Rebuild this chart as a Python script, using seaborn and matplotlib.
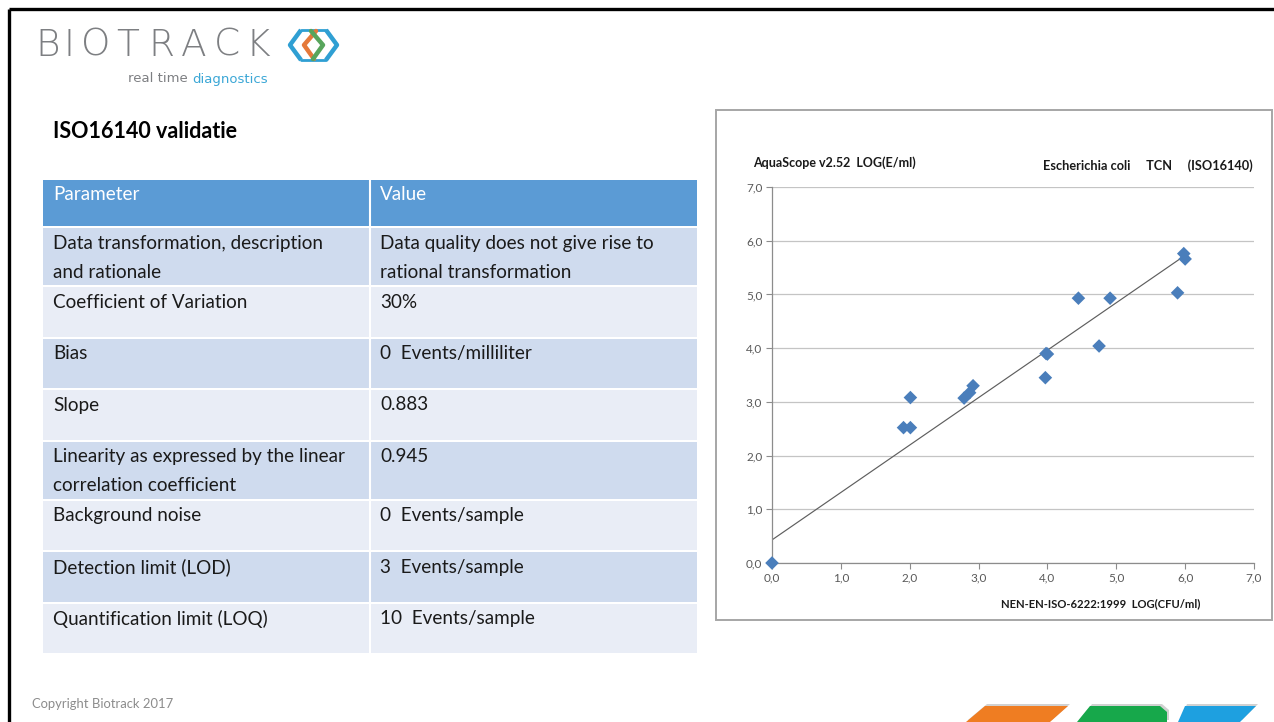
import matplotlib
matplotlib.use("Agg")
import matplotlib.pyplot as plt
import matplotlib.patches as mpatches
import seaborn as sns
import pandas as pd

# ---------------- data ----------------
x_reference = [0.0, 1.91, 2.01, 2.01, 2.79, 2.87, 2.92, 3.97, 3.98, 4.00,
               4.45, 4.75, 4.91, 5.89, 5.98, 6.00]
y_aquascope = [0.0, 2.52, 2.52, 3.08, 3.07, 3.17, 3.30, 3.45, 3.90, 3.89,
               4.93, 4.04, 4.93, 5.03, 5.76, 5.66]
trend_slope = 0.883
trend_intercept = 0.43
axis_ticks = [0, 1, 2, 3, 4, 5, 6, 7]

parameters = ["Data transformation, description\nand rationale",
              "Coefficient of Variation",
              "Bias",
              "Slope",
              "Linearity as expressed by the linear\ncorrelation coefficient",
              "Background noise",
              "Detection limit (LOD)",
              "Quantification limit (LOQ)"]
values = ["Data quality does not give rise to\nrational transformation",
          "30%",
          "0  Events/milliliter",
          "0.883",
          "0.945",
          "0  Events/sample",
          "3  Events/sample",
          "10  Events/sample"]
header = ["Parameter", "Value"]

# ---------------- figure ----------------
sns.set_style("white")
plt.rcParams['font.family'] = ['Lato', 'DejaVu Sans']

W, H = 1274, 722
fig = plt.figure(figsize=(W / 100, H / 100), dpi=100)
fig.patch.set_facecolor("white")

bg = fig.add_axes([0, 0, 1, 1])
bg.set_xlim(0, W)
bg.set_ylim(H, 0)
bg.axis("off")

# slide frame
bg.plot([9, W], [9, 9], color="black", lw=2.4, solid_capstyle="butt")
bg.plot([9, 9], [9, H], color="black", lw=2.4, solid_capstyle="butt")

# logo
logo_letters = "BIOTRACK"
logo_centers = [48, 69, 96, 128, 161, 194, 227, 258]
for ch, cx in zip(logo_letters, logo_centers):
    bg.text(cx, 45, ch, fontsize=27, color="#7d7f82", va="center", ha="center",
            family="DejaVu Sans", fontweight="light")
blue_l, orange, green = "#2f9fd3", "#e5793a", "#58a55c"
bg.plot([301, 290, 301], [30, 45, 60], color=blue_l, lw=3.2, solid_capstyle="butt")
bg.plot([326, 337, 326], [30, 45, 60], color=blue_l, lw=3.2, solid_capstyle="butt")
bg.plot([301, 326], [30, 30], color=blue_l, lw=2.0)
bg.plot([301, 326], [60, 60], color=blue_l, lw=2.0)
bg.plot([316, 304, 314], [31, 45, 59], color=orange, lw=3.2)
bg.plot([311, 323, 313], [31, 45, 59], color=green, lw=3.2)
bg.text(128, 79, "real time", fontsize=9.5, color="#7d7f82", va="center", ha="left",
        family="DejaVu Sans")
bg.text(268, 79, "diagnostics", fontsize=9.5, color="#3ba7d6", va="center", ha="right",
        family="DejaVu Sans")

# title
bg.text(53, 132, "ISO16140 validatie", fontsize=15.5, fontweight="bold",
        color="black", va="center", ha="left")

# table
fs_tab = 13.6
tx0, tx1, tcol = 43, 697, 370
gap = 2
y = 180
bg.add_patch(mpatches.Rectangle((tx0, y), tx1 - tx0, 46, facecolor="#5b9bd5",
                                edgecolor="none"))
bg.text(53, y + 15, header[0], fontsize=fs_tab, color="white", va="center")
bg.text(380, y + 15, header[1], fontsize=fs_tab, color="white", va="center")
y += 46 + gap
for i, (p, v) in enumerate(zip(parameters, values)):
    nlines = max(p.count("\n"), v.count("\n")) + 1
    h = 57 if nlines == 2 else 49.5
    col = "#cfdbee" if i % 2 == 0 else "#e9edf6"
    bg.add_patch(mpatches.Rectangle((tx0, y), tx1 - tx0, h, facecolor=col,
                                    edgecolor="none"))
    for k, line in enumerate(p.split("\n")):
        bg.text(53, y + 15 + 29 * k, line, fontsize=fs_tab, color="#1a1a1a", va="center")
    for k, line in enumerate(v.split("\n")):
        bg.text(380, y + 15 + 29 * k, line, fontsize=fs_tab, color="#1a1a1a", va="center")
    y += h + gap
bg.plot([tcol, tcol], [180, y - gap], color="white", lw=1.5)

# copyright
bg.text(32, 704, "Copyright Biotrack 2017", fontsize=9.4, color="#8c8c8c", va="center")

# bottom-right logo shapes
shapes = [([(966, 722), (985, 706), (1068, 706), (1050, 722)], "#ef7d22"),
          ([(1077, 722), (1090, 706), (1160, 706), (1167, 712), (1167, 722)], "#17a84b"),
          ([(1178, 722), (1185, 706), (1256, 706), (1240, 722)], "#1ea0e0")]
for pts, c in shapes:
    sh = [(px + 2, py - 2) for px, py in pts]
    bg.add_patch(mpatches.Polygon(sh, closed=True, facecolor="#999999", alpha=0.45,
                                  edgecolor="none"))
    bg.add_patch(mpatches.Polygon(pts, closed=True, facecolor=c, edgecolor="none"))

# chart frame
bg.add_patch(mpatches.Rectangle((716, 110), 556, 510, facecolor="white",
                                edgecolor="#a6a6a6", lw=1.4))

# chart texts
bg.text(753, 163, "AquaScope v2.52  LOG(E/ml)", fontsize=9, fontweight="bold",
        color="#1a1a1a", va="center", ha="left")
bg.text(1253, 166, "Escherichia coli     TCN     (ISO16140)", fontsize=9.2,
        fontweight="bold", color="#1a1a1a", va="center", ha="right")
bg.text(1200, 604, "NEN-EN-ISO-6222:1999  LOG(CFU/ml)", fontsize=8.1,
        fontweight="bold", color="#1a1a1a", va="center", ha="right")

# scatter axes
ax_l, ax_r, ax_t, ax_b = 772, 1254, 187, 563
ax = fig.add_axes([ax_l / W, (H - ax_b) / H, (ax_r - ax_l) / W, (ax_b - ax_t) / H])
ax.set_facecolor("none")

df = pd.DataFrame({"x": x_reference, "y": y_aquascope})
trend_x = [0.0, max(x_reference)]
trend = pd.DataFrame({"x": trend_x,
                      "y": [trend_intercept + trend_slope * t for t in trend_x]})
sns.lineplot(data=trend, x="x", y="y", ax=ax, color="#5e5e5e", lw=0.85, zorder=2)
sns.scatterplot(data=df, x="x", y="y", ax=ax, marker="D", s=48, color="#4a7ebb",
                edgecolor="none", zorder=3, clip_on=False)

ax.set_xlim(0, 7)
ax.set_ylim(0, 7)
ax.set_xticks(axis_ticks)
ax.set_yticks(axis_ticks)
lab = [f"{t:.1f}".replace(".", ",") for t in axis_ticks]
ax.set_xticklabels(lab)
ax.set_yticklabels(lab)
ax.set_xlabel("")
ax.set_ylabel("")
ax.yaxis.grid(True, color="#c4c4c4", lw=0.9)
ax.xaxis.grid(False)
ax.set_axisbelow(True)
for s in ["top", "right"]:
    ax.spines[s].set_visible(False)
for s in ["left", "bottom"]:
    ax.spines[s].set_color("#8c8c8c")
    ax.spines[s].set_linewidth(0.9)
ax.tick_params(axis="both", which="major", direction="out", length=4, width=0.8,
               color="#8c8c8c", labelsize=8.5, labelcolor="#595959", pad=3,
               left=True, bottom=True)

fig.savefig("out.png", dpi=100)
